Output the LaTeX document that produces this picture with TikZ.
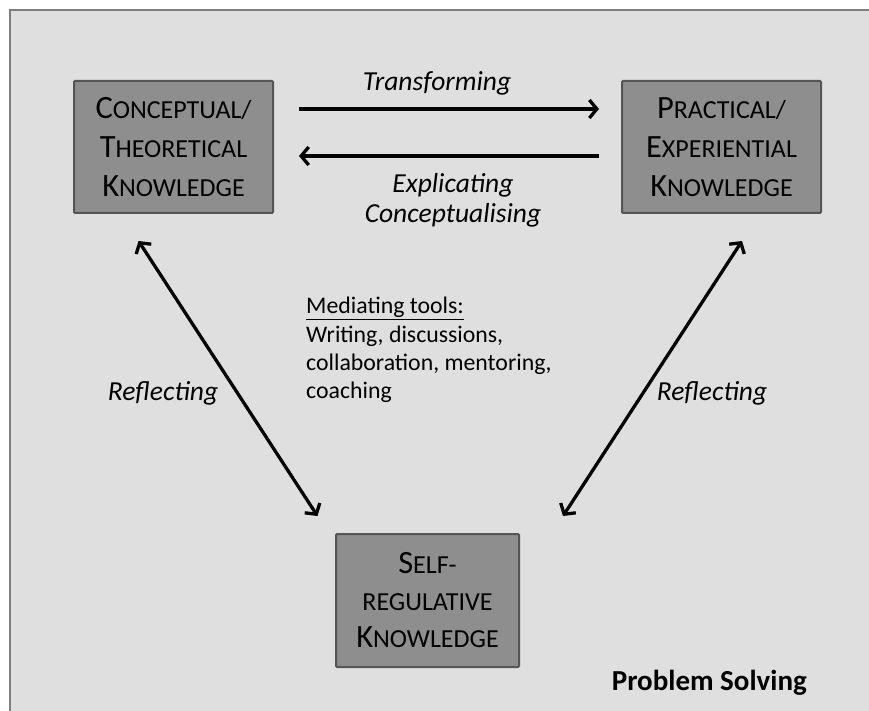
\documentclass[tikz,border=0pt]{standalone}
\usepackage{fontspec}
\setmainfont{Carlito}
\usetikzlibrary{arrows.meta}
\definecolor{panelgray}{HTML}{DFDFDF}
\definecolor{framegray}{HTML}{7F7F7F}
\definecolor{boxfill}{HTML}{8E8E8E}
\definecolor{boxedge}{HTML}{555555}
% reduced capitals for the knowledge boxes
\newcommand\smc[1]{{\fontsize{26}{26}\selectfont #1}}
\begin{document}
\begin{tikzpicture}[x=1pt,y=-1pt,
  knowbox/.style={draw=boxedge, line width=2pt, fill=boxfill, rounded corners=1pt,
    minimum width=199pt, minimum height=132pt, align=center, inner sep=0pt,
    font=\fontsize{32.5}{39}\selectfont},
  tip/.tip={Straight Barb[length=7.5pt,width=18pt]},
  arr/.style={line width=3.3pt, -tip},
  dbl/.style={line width=3.3pt, tip-tip},
  lbl/.style={font=\fontsize{27.5}{30}\selectfont\itshape, align=center, inner sep=0pt}]
\useasboundingbox (0,0) rectangle (869,711);
\fill[white] (0,0) rectangle (869,711);
% panel
\draw[framegray, line width=2.5pt, fill=panelgray] (10,10) rectangle (885,725);

% knowledge boxes
\node[knowbox] (CT) at (173.5,147) {C\smc{ONCEPTUAL/}\\T\smc{HEORETICAL}\\K\smc{NOWLEDGE}};
\node[knowbox] (PE) at (721.5,147) {P\smc{RACTICAL/}\\E\smc{XPERIENTIAL}\\K\smc{NOWLEDGE}};
\node[knowbox, minimum width=183pt, minimum height=133pt, font=\fontsize{32.5}{37}\selectfont] (SR) at (427.5,600.5)
  {S\smc{ELF-}\\\smc{REGULATIVE}\\K\smc{NOWLEDGE}};

% connectors
\draw[arr] ([shift={(25pt,38pt)}]CT.east) -- ([shift={(-22pt,38pt)}]PE.west);
\draw[arr] ([shift={(-22pt,-9pt)}]PE.west) -- ([shift={(25pt,-9pt)}]CT.east);
\draw[dbl] ([shift={(-35pt,-27pt)}]CT.south) -- ([shift={(-110pt,17pt)}]SR.north);
\draw[dbl] ([shift={(20.5pt,-27pt)}]PE.south) -- ([shift={(135.5pt,17pt)}]SR.north);

% labels
\node[lbl] (trans) at (437,83) {Transforming};
\node[lbl] (expl) at (453,200) {Explicating\\Conceptualising};
\node[lbl] (refl) at (163,393) {Reflecting};
\node[lbl] (refr) at (712,393) {Reflecting};
\node[anchor=north west, align=left, inner sep=0pt, font=\fontsize{23.8}{28.3}\selectfont] (tools) at (306,297)
  {\underline{Mediating tools:}\\Writing, discussions,\\collaboration, mentoring,\\coaching};
\node[anchor=east, inner sep=0pt, font=\fontsize{29}{32}\selectfont\bfseries] (ps) at (807,683) {Problem Solving};
\end{tikzpicture}
\end{document}
